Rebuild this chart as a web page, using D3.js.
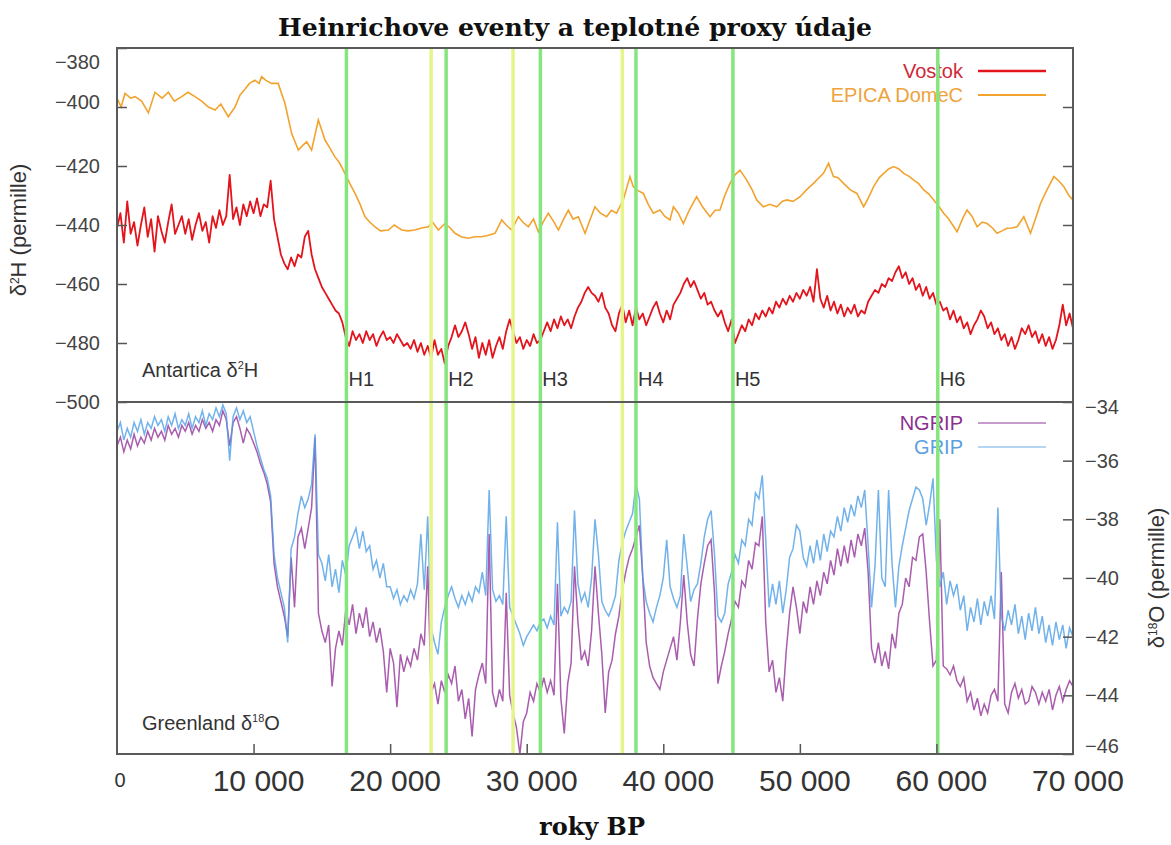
<!DOCTYPE html>
<html>
<head>
<meta charset="utf-8">
<script src="https://cdn.jsdelivr.net/npm/d3@7"></script>
<style>
  body { margin: 0; background: #fff; }
  svg { display: block; }
  text { font-family: 'Liberation Sans', Arial, sans-serif; }
  .serif { font-family: 'DejaVu Serif', serif; font-weight: bold; }
</style>
</head>
<body>
<svg id="chart" width="1171" height="845"></svg>
<script>
// ---- data ----
// Antarctica deuterium, Vostok: one value every 250 years, 0 .. 70 000 BP
const vostok = [
  -441,-436,-446,-432,-443,-439,-447,-440,-434,-444,-438,-449,-437,-442,-446,-439,-433,-443,-440,-437,
  -443,-438,-445,-440,-436,-442,-439,-446,-437,-441,-435,-440,-437,-423,-438,-434,-440,-433,-437,-432,
  -436,-431,-437,-433,-434,-425,-438,-444,-450,-453,-455,-451,-454,-450,-451,-444,-442,-450,-455,-458,
  -461,-463,-465,-467,-469,-470,-473,-478,-481,-476,-479,-477,-480,-476,-479,-477,-481,-478,-476,-479,
  -478,-480,-477,-479,-481,-480,-482,-479,-483,-480,-484,-481,-485,-479,-484,-482,-487,-481,-478,-474,
  -478,-476,-473,-477,-482,-478,-485,-480,-484,-479,-485,-481,-478,-482,-476,-472,-476,-480,-478,-482,
  -479,-481,-477,-480,-479,-476,-473,-476,-472,-475,-471,-474,-472,-475,-471,-468,-466,-463,-461,-463,
  -464,-466,-463,-468,-470,-474,-476,-470,-467,-473,-469,-474,-468,-472,-470,-474,-471,-468,-466,-470,
  -473,-469,-472,-467,-465,-463,-460,-458,-461,-459,-462,-465,-463,-467,-466,-469,-471,-469,-473,-476,
  -472,-480,-477,-474,-476,-472,-474,-470,-472,-469,-471,-468,-470,-466,-468,-465,-467,-464,-466,-463,
  -465,-462,-464,-461,-466,-455,-465,-468,-464,-469,-466,-470,-467,-471,-468,-470,-467,-471,-469,-470,
  -466,-464,-462,-463,-460,-461,-458,-459,-456,-454,-458,-456,-460,-458,-462,-460,-464,-461,-465,-463,
  -467,-466,-469,-468,-472,-469,-473,-471,-475,-473,-477,-474,-472,-469,-471,-475,-473,-477,-475,-479,
  -477,-481,-478,-482,-479,-475,-477,-474,-478,-476,-480,-477,-481,-478,-482,-479,-474,-467,-474,-470,
  -475
];

// EPICA Dome C: irregular samples
const epicaYears = [
  0,300,586,1000,1320,1800,2300,2780,3300,3760,4200,4740,5200,5710,6200,6690,7180,7600,8150,8640,
  9000,9370,9700,10100,10400,10590,10900,11320,11800,12300,12790,13280,13600,13890,14250,14740,15000,15230,15600,15960,
  16300,16690,17050,17430,17800,18160,18500,18890,19300,19870,20300,20850,21300,21820,22300,22800,23100,23530,24020,24400,
  24750,25200,25730,26200,26700,27200,27680,28170,28500,28900,29390,29700,30120,30500,30850,31200,31580,32000,32320,32700,
  33050,33400,33780,34270,34630,35000,35400,35850,36200,36580,37070,37560,37800,38050,38540,38900,39270,39760,40100,40490,
  40740,41100,41470,41900,42440,42900,43420,43800,44150,44500,44890,45250,45620,46110,46500,46840,47330,47800,48310,48700,
  49040,49500,50020,50500,51000,51400,51730,52100,52460,52800,53200,53690,54180,54670,55000,55400,55800,56140,56500,56870,
  57250,57600,58000,58340,58700,59070,59450,59800,60150,60530,60900,61270,61510,61900,62240,62600,62980,63350,63710,64100,
  64440,64800,65170,65500,65910,66400,66890,67250,67620,68100,68600,68950,69330,69700,70000
];
const epicaValues = [
  -397,-400,-395.4,-397,-396.5,-398,-402,-395,-397,-395,-398,-396.5,-395,-396.5,-398,-400,-401,-399,-403.3,-400,
  -396,-394,-392,-390.9,-392,-389.7,-391,-392,-392,-398.8,-409,-414.6,-413,-411.8,-414.6,-404.4,-408,-411.2,-414,-416.9,
  -419,-422.5,-426,-429.3,-433,-437.2,-439,-440.6,-442,-441.7,-440,-441.7,-442,-441.7,-441,-440.6,-439,-441.7,-439.5,-441,
  -442.8,-444,-444.5,-444,-444,-443.5,-442.8,-438.3,-440,-441.7,-437.2,-439,-440.6,-438,-442.3,-439,-436,-439,-441.7,-438,
  -435,-438,-437.2,-442.8,-438.3,-433.8,-436,-437.2,-435,-436,-431.5,-423.6,-427,-428.1,-429.3,-433,-436,-434.9,-437,-438.3,
  -433.8,-436,-439.5,-435,-430.4,-434,-437.2,-435,-434.9,-430,-425.9,-423,-421.4,-424.8,-428,-431.5,-433.8,-433,-433.8,-432,
  -431.5,-432,-430.4,-428,-425.9,-424,-422.5,-419.1,-423.6,-424,-425.9,-428.1,-429.3,-433.8,-431,-427,-424,-422.5,-421,-420.2,
  -421,-422.5,-423.5,-424.8,-426,-428.1,-429.5,-431.5,-433.5,-436,-438,-440.6,-442.3,-438,-434.9,-437,-440.6,-439,-439.5,-441,
  -442.8,-442,-441.1,-441,-440.6,-437.2,-442.8,-438,-432.7,-428,-423.6,-425,-427,-430,-431.5
];

// Greenland oxygen-18: one value every 250 years, 0 .. 70 000 BP
const ngrip = [
  -35.5,-35.2,-35.7,-35.3,-35.6,-35.1,-35.5,-35.2,-35.4,-35.0,-35.3,-34.9,-35.2,-35.0,-35.3,-34.8,-35.1,-34.9,-35.2,-34.8,
  -35.0,-34.7,-35.1,-34.8,-35.0,-34.6,-34.9,-34.7,-35.0,-34.6,-34.8,-34.3,-34.6,-35.5,-34.7,-34.5,-34.9,-35.4,-34.9,-35.1,
  -35.4,-35.7,-36.1,-36.4,-36.8,-37.4,-39.5,-40.3,-40.8,-41.3,-42.0,-39.3,-41.0,-38.6,-38.3,-39.0,-38.3,-37.6,-35.2,-41.2,
  -41.8,-42.2,-41.6,-43.7,-42.4,-41.8,-42.3,-41.1,-41.6,-40.9,-41.9,-41.2,-41.7,-41.0,-42.0,-41.5,-42.2,-41.7,-42.5,-43.9,
  -42.4,-42.9,-44.4,-42.6,-43.2,-42.7,-43.0,-42.4,-42.8,-41.9,-42.3,-39.6,-43.9,-43.6,-44.3,-43.5,-43.9,-43.3,-43.6,-43.0,
  -44.2,-43.8,-44.8,-44.1,-45.4,-43.8,-43.3,-42.9,-43.6,-38.5,-43.9,-44.4,-43.8,-44.2,-40.5,-44.0,-44.6,-45.1,-46.0,-44.9,
  -44.6,-43.9,-44.2,-43.6,-43.9,-43.4,-43.9,-43.5,-44.0,-40.2,-44.1,-45.3,-43.6,-42.9,-39.6,-41.5,-42.8,-42.5,-43.0,-41.8,
  -39.6,-41.2,-42.6,-44.6,-43.2,-42.8,-41.9,-41.3,-40.4,-39.8,-39.3,-39.0,-38.6,-38.2,-40.0,-42.2,-43.0,-43.4,-43.6,-43.8,
  -43.2,-42.8,-42.4,-42.0,-42.8,-41.5,-39.9,-41.5,-42.6,-43.0,-41.4,-40.2,-39.5,-38.9,-38.7,-40.5,-43.6,-43.0,-42.5,-41.9,
  -41.4,-40.8,-41.0,-40.1,-40.3,-39.4,-39.7,-38.8,-38.9,-37.9,-41.5,-43.2,-42.8,-43.9,-43.4,-44.2,-42.5,-41.2,-40.3,-41.0,
  -41.9,-40.8,-41.2,-40.3,-40.9,-40.1,-40.6,-39.8,-40.2,-39.4,-39.9,-39.0,-39.6,-38.9,-39.5,-38.7,-39.3,-38.5,-38.9,-38.3,
  -39.8,-42.4,-42.9,-42.2,-43.0,-42.5,-43.1,-41.9,-42.4,-41.2,-40.9,-40.0,-40.3,-39.3,-39.4,-38.6,-38.5,-39.8,-41.5,-43.0,
  -42.8,-38.0,-43.0,-43.1,-43.3,-43.0,-43.5,-43.7,-43.4,-44.2,-43.9,-44.5,-44.1,-44.7,-44.3,-44.6,-44.0,-43.8,-44.2,-39.8,
  -44.3,-44.6,-43.9,-43.6,-44.1,-43.8,-44.3,-44.2,-43.7,-43.9,-44.3,-43.9,-44.2,-43.8,-44.5,-44.0,-43.7,-44.2,-43.8,-43.5,
  -43.7
];
const grip = [
  -35.0,-34.7,-35.3,-34.9,-35.2,-34.7,-35.0,-34.6,-35.1,-34.7,-34.9,-34.5,-34.8,-34.6,-35.0,-34.5,-34.8,-34.4,-34.9,-34.6,
  -34.8,-34.4,-34.9,-34.5,-34.7,-34.3,-34.8,-34.4,-34.6,-34.2,-34.5,-34.1,-34.4,-36.0,-34.5,-34.2,-34.6,-34.3,-34.7,-34.5,
  -35.0,-35.5,-35.9,-36.3,-36.6,-37.2,-39.2,-40.0,-40.5,-41.0,-42.2,-39.0,-38.6,-37.8,-37.2,-37.6,-37.3,-36.8,-35.1,-39.2,
  -39.5,-40.1,-39.2,-40.3,-39.7,-40.5,-39.4,-39.9,-38.9,-38.6,-38.3,-39.0,-38.4,-39.1,-38.9,-39.7,-39.4,-40.0,-39.5,-40.3,
  -40.3,-40.7,-40.4,-40.9,-40.6,-40.8,-40.4,-40.7,-40.2,-38.5,-40.4,-37.9,-41.7,-42.2,-42.6,-41.5,-41.0,-40.6,-40.3,-40.7,
  -41.0,-40.6,-40.9,-40.5,-40.8,-40.3,-40.5,-39.8,-40.6,-37.0,-40.4,-40.8,-40.6,-40.9,-37.9,-41.0,-41.3,-41.6,-41.9,-42.3,
  -42.0,-41.8,-41.6,-41.8,-41.5,-41.4,-41.7,-41.3,-41.6,-38.1,-41.3,-41.0,-41.2,-40.8,-37.7,-40.2,-40.8,-40.5,-41.0,-40.0,
  -38.0,-39.2,-40.8,-41.1,-41.3,-41.0,-40.6,-39.4,-38.8,-38.4,-38.1,-37.8,-36.8,-37.3,-40.0,-40.8,-41.2,-41.5,-41.0,-40.6,
  -40.0,-38.7,-40.3,-40.7,-41.0,-40.6,-38.5,-39.6,-40.8,-40.4,-40.2,-39.5,-38.6,-38.0,-37.7,-39.2,-41.3,-41.5,-41.2,-40.2,
  -39.8,-39.2,-39.5,-38.7,-38.9,-38.0,-38.2,-37.1,-37.3,-36.5,-38.7,-41.0,-40.2,-40.9,-40.1,-41.2,-40.4,-39.3,-39.0,-38.2,
  -38.4,-39.3,-39.6,-38.9,-39.5,-38.7,-39.4,-38.5,-39.1,-38.4,-38.6,-37.9,-38.4,-37.6,-38.1,-37.5,-37.9,-37.2,-37.6,-37.0,
  -38.9,-41.0,-39.6,-37.0,-40.0,-40.3,-37.0,-39.5,-41.0,-39.6,-38.9,-38.3,-37.7,-37.3,-36.9,-37.0,-37.3,-38.2,-37.5,-36.6,
  -39.4,-40.3,-39.8,-40.9,-40.1,-40.6,-40.2,-41.1,-40.6,-41.8,-41.0,-41.5,-40.7,-41.6,-40.8,-41.3,-40.6,-41.4,-37.6,-41.3,
  -41.8,-41.1,-41.6,-40.9,-41.9,-41.3,-42.1,-41.2,-41.8,-41.0,-41.9,-41.3,-42.2,-41.6,-42.3,-41.5,-42.1,-41.6,-42.4,-41.7,
  -42.0
];

// Heinrich events (green) and the yellow marker lines
const heinrichYears = [16800, 24100, 31000, 38000, 45100, 60100];
const heinrichLabels = ['H1', 'H2', 'H3', 'H4', 'H5', 'H6'];
const yellowYears = [23000, 29000, 37000];

const xTicks = [0, 10000, 20000, 30000, 40000, 50000, 60000, 70000];
const xTickLabels = ['0', '10 000', '20 000', '30 000', '40 000', '50 000', '60 000', '70 000'];
const topTicks = [-500, -480, -460, -440, -420, -400, -380];
const bottomTicks = [-46, -44, -42, -40, -38, -36, -34];

// ---- layout ----
const svg = d3.select('svg#chart');
const plotLeft = 117, plotRight = 1073, plotTop = 48, plotMid = 402, plotBottom = 754;

const xScale = d3.scaleLinear().domain([0, 70000]).range([plotLeft, plotRight]);
const yTop = d3.scaleLinear().domain([-500, -380]).range([plotMid, plotTop]);
const yBottom = d3.scaleLinear().domain([-46, -34]).range([plotBottom, plotMid]);

const evenSeries = (values) => {
  const step = 70000 / (values.length - 1);
  return values.map((v, i) => ({year: i * step, value: v}));
};

const vostokData = evenSeries(vostok);
const epicaData = epicaYears.map((y, i) => ({year: y, value: epicaValues[i]}));
const ngripData = evenSeries(ngrip);
const gripData = evenSeries(grip);

const defs = svg.append('defs');
defs.append('clipPath').attr('id', 'clipTop')
  .append('rect').attr('x', plotLeft).attr('y', plotTop)
  .attr('width', plotRight - plotLeft).attr('height', plotMid - plotTop);
defs.append('clipPath').attr('id', 'clipBottom')
  .append('rect').attr('x', plotLeft).attr('y', plotMid)
  .attr('width', plotRight - plotLeft).attr('height', plotBottom - plotMid);

// title
svg.append('text')
  .attr('class', 'serif')
  .attr('x', 575).attr('y', 36)
  .attr('text-anchor', 'middle')
  .attr('font-size', 24)
  .attr('textLength', 594)
  .attr('lengthAdjust', 'spacingAndGlyphs')
  .attr('fill', '#111')
  .text('Heinrichove eventy a teplotné proxy údaje');

// ---- series ----
const lineTop = d3.line().x(d => xScale(d.year)).y(d => yTop(d.value));
const lineBottom = d3.line().x(d => xScale(d.year)).y(d => yBottom(d.value));

const gTop = svg.append('g').attr('clip-path', 'url(#clipTop)');
gTop.append('path').datum(epicaData)
  .attr('d', lineTop).attr('fill', 'none')
  .attr('stroke', '#f2a32e').attr('stroke-width', 1.6);
gTop.append('path').datum(vostokData)
  .attr('d', lineTop).attr('fill', 'none')
  .attr('stroke', '#e3141c').attr('stroke-width', 1.8).attr('stroke-linejoin', 'round');

const gBottom = svg.append('g').attr('clip-path', 'url(#clipBottom)');
gBottom.append('path').datum(ngripData)
  .attr('d', lineBottom).attr('fill', 'none')
  .attr('stroke', '#93359a').attr('stroke-width', 1.5).attr('stroke-opacity', 0.8);
gBottom.append('path').datum(gripData)
  .attr('d', lineBottom).attr('fill', 'none')
  .attr('stroke', '#4f9fe6').attr('stroke-width', 1.5).attr('stroke-opacity', 0.8);

// ---- legends ----
const legend = (items, y0) => {
  items.forEach((d, i) => {
    const y = y0 + i * 24;
    svg.append('text')
      .attr('x', 963).attr('y', y).attr('dy', '0.35em')
      .attr('text-anchor', 'end').attr('font-size', 20)
      .attr('fill', d.text).text(d.name);
    svg.append('line')
      .attr('x1', 978).attr('x2', 1046).attr('y1', y).attr('y2', y)
      .attr('stroke', d.color).attr('stroke-width', d.width);
  });
};
legend([
  {name: 'Vostok', color: '#e3141c', text: '#d0283a', width: 2.5},
  {name: 'EPICA DomeC', color: '#f2a32e', text: '#eea33c', width: 2}
], 71);
legend([
  {name: 'NGRIP', color: '#b07ab8', text: '#8c2f8f', width: 1.5},
  {name: 'GRIP', color: '#9cc8ef', text: '#5a9fe0', width: 1.5}
], 423);

// ---- event lines ----
svg.selectAll('.yellow').data(yellowYears)
  .enter().append('line')
    .attr('class', 'yellow')
    .attr('x1', d => xScale(d)).attr('x2', d => xScale(d))
    .attr('y1', plotTop).attr('y2', plotBottom)
    .attr('stroke', '#e6f48c').attr('stroke-width', 3.5);
svg.selectAll('.green').data(heinrichYears)
  .enter().append('line')
    .attr('class', 'green')
    .attr('x1', d => xScale(d)).attr('x2', d => xScale(d))
    .attr('y1', plotTop).attr('y2', plotBottom)
    .attr('stroke', '#84e67c').attr('stroke-width', 3.5);
svg.selectAll('.hlabel').data(heinrichYears)
  .enter().append('text')
    .attr('class', 'hlabel')
    .attr('x', d => xScale(d) + 2).attr('y', 386)
    .attr('font-size', 20).attr('fill', '#333')
    .text((d, i) => heinrichLabels[i]);

// ---- axes ----
const styleAxis = (g) => {
  g.select('.domain').remove();
  g.selectAll('.tick line').attr('stroke', '#555').attr('stroke-width', 1.5);
  g.selectAll('.tick text').attr('font-size', 20).attr('fill', '#444')
    .attr('font-family', "'Liberation Sans', Arial, sans-serif");
};

svg.append('g')
  .attr('transform', `translate(${plotLeft},0)`)
  .call(d3.axisLeft(yTop).tickValues(topTicks).tickSize(-10).tickPadding(17))
  .call(styleAxis)
  .selectAll('.tick text')
    .attr('dy', d => d === -380 ? '1.0em' : d === -400 ? '0.05em' : '0.32em');

svg.append('g')
  .attr('transform', `translate(${plotRight},0)`)
  .call(d3.axisRight(yTop).tickValues(topTicks.slice(1, -1)).tickSize(-10).tickFormat(''))
  .call(styleAxis);

svg.append('g')
  .attr('transform', `translate(${plotRight},0)`)
  .call(d3.axisRight(yBottom).tickValues(bottomTicks).tickSize(-10).tickPadding(12))
  .call(styleAxis)
  .selectAll('.tick text')
    .attr('dy', d => d === -34 ? '0.55em' : d === -46 ? '-0.1em' : '0.32em');

svg.append('g')
  .attr('transform', `translate(0,${plotBottom})`)
  .call(d3.axisBottom(xScale).tickValues(xTicks.slice(1, -1)).tickSize(-10).tickFormat(''))
  .call(styleAxis);

svg.selectAll('.xlabel').data(xTicks)
  .enter().append('text')
    .attr('class', 'xlabel')
    .attr('x', d => d === 0 ? xScale(d) + 3 : xScale(d) + 5)
    .attr('y', d => d === 0 ? 787 : 791)
    .attr('text-anchor', 'middle')
    .attr('font-size', d => d === 0 ? 20 : 30)
    .attr('fill', '#333')
    .text((d, i) => xTickLabels[i]);

// axis titles
const yTitle = (x, y, parts) => {
  const t = svg.append('text')
    .attr('transform', `translate(${x},${y}) rotate(-90)`)
    .attr('text-anchor', 'middle').attr('font-size', 22).attr('fill', '#333');
  parts.forEach(p => {
    t.append('tspan')
      .attr('font-size', p.sup ? 12 : 22)
      .attr('baseline-shift', p.sup ? '60%' : null)
      .text(p.s);
  });
};
yTitle(26, 230, [{s: 'δ'}, {s: '2', sup: true}, {s: 'H (permille)'}]);
yTitle(1164, 578, [{s: 'δ'}, {s: '18', sup: true}, {s: 'O (permille)'}]);

svg.append('text')
  .attr('class', 'serif')
  .attr('x', 592).attr('y', 835)
  .attr('text-anchor', 'middle').attr('font-size', 24).attr('fill', '#111')
  .text('roky BP');

// panel labels
const panelLabel = (y, parts) => {
  const t = svg.append('text')
    .attr('x', 142).attr('y', y).attr('font-size', 20).attr('fill', '#333');
  parts.forEach(p => {
    t.append('tspan')
      .attr('font-size', p.sup ? 11 : 20)
      .attr('baseline-shift', p.sup ? '70%' : null)
      .text(p.s);
  });
};
panelLabel(377, [{s: 'Antartica δ'}, {s: '2', sup: true}, {s: 'H'}]);
panelLabel(730, [{s: 'Greenland δ'}, {s: '18', sup: true}, {s: 'O'}]);

// frame
svg.append('rect')
  .attr('x', plotLeft).attr('y', plotTop)
  .attr('width', plotRight - plotLeft).attr('height', plotBottom - plotTop)
  .attr('fill', 'none').attr('stroke', '#5a5a5a').attr('stroke-width', 2);
svg.append('line')
  .attr('x1', plotLeft).attr('x2', plotRight).attr('y1', plotMid).attr('y2', plotMid)
  .attr('stroke', '#5a5a5a').attr('stroke-width', 2);
</script>
</body>
</html>
